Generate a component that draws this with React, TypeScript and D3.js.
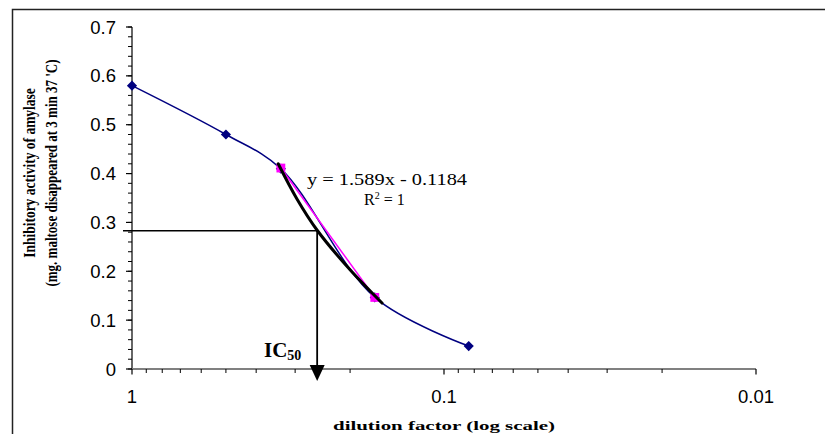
import React from 'react';
import * as d3 from 'd3';

// ---- data ----
const dilution = [1, 0.5, 1 / 3, 1 / 6, 1 / 12];
const activity = [0.58, 0.48, 0.41, 0.1465, 0.047];
const trendDilution = [1 / 3, 1 / 6];
const trendActivity = [0.4113, 0.1465];
const handDilution = [0.34, 0.296, 0.255, 0.2, 0.158];
const handActivity = [0.42, 0.348, 0.284, 0.203, 0.135];
const ic50Dilution = 0.255;
const ic50Activity = 0.283;
const yTicks = [0, 0.1, 0.2, 0.3, 0.4, 0.5, 0.6, 0.7];
const yTickLabels = ['0', '0.1', '0.2', '0.3', '0.4', '0.5', '0.6', '0.7'];
const xMajorTicks = [1, 0.1, 0.01];
const xTickLabels = ['1', '0.1', '0.01'];
const equationText = 'y = 1.589x - 0.1184';
const yTitle1 = 'Inhibitory activity of amylase';
const yTitle2 = "(mg. maltose disappeared at 3 min  37 'C)";
const xTitle = 'dilution factor (log scale)';

const W = 825;
const H = 434;

export default function App() {
  const x = d3.scaleLog().domain([1, 0.01]).range([132, 756]);
  const y = d3.scaleLinear().domain([0, 0.7]).range([369, 27]);

  const yMinor = d3.range(0, 0.7001, 0.02);
  const xMinor: number[] = [];
  [1, 0.1].forEach((dec) => {
    for (let k = 9; k >= 2; k--) xMinor.push((dec * k) / 10);
  });

  const pts: [number, number][] = dilution.map((d, i) => [d, activity[i]]);
  const blueLine = d3
    .line<[number, number]>()
    .x((d) => x(d[0]))
    .y((d) => y(d[1]))
    .curve(d3.curveCatmullRom.alpha(0.5))(pts);

  const handPts: [number, number][] = handDilution.map((d, i) => [d, handActivity[i]]);
  const handLine = d3
    .line<[number, number]>()
    .x((d) => x(d[0]))
    .y((d) => y(d[1]))
    .curve(d3.curveCatmullRom.alpha(0.5))(handPts);

  const trendPts: [number, number][] = trendDilution.map((d, i) => [d, trendActivity[i]]);
  const trendLine = d3
    .line<[number, number]>()
    .x((d) => x(d[0]))
    .y((d) => y(d[1]))(trendPts);

  const diamond = d3.symbol(d3.symbolSquare, 52)();
  const square = d3.symbol(d3.symbolSquare, 78)();

  const icx = x(ic50Dilution);
  const icy = y(ic50Activity);
  const y0 = y(0);
  const arrow = `M${icx - 7.5},${y0 - 4}L${icx + 7.5},${y0 - 4}L${icx},${y0 + 12}Z`;

  return (
    <svg width={W} height={H} style={{ position: 'absolute', left: 0, top: 0, background: '#fff' }}>
      <rect x={0} y={0} width={W} height={H} fill="#fff" />
      {/* outer frame */}
      <path d={`M12.5,${H}L12.5,9.5L${W},9.5`} fill="none" stroke="#222" strokeWidth={1.5} />

      {/* y axis */}
      <line x1={132} x2={132} y1={y(0.7)} y2={y(0)} stroke="#000" strokeWidth={1.2} />
      {yMinor.map((v, i) => (
        <line key={'ym' + i} x1={128} x2={132} y1={y(v)} y2={y(v)} stroke="#000" strokeWidth={1} />
      ))}
      {yTicks.map((v, i) => (
        <line key={'yt' + i} x1={126} x2={132} y1={y(v)} y2={y(v)} stroke="#000" strokeWidth={1.2} />
      ))}
      {yTicks.map((v, i) => (
        <text
          key={'yl' + i}
          x={116}
          y={y(v) + 6.5}
          textAnchor="end"
          fontFamily="Liberation Sans, Arial, sans-serif"
          fontSize={18.5}
          fill="#000"
        >
          {yTickLabels[i]}
        </text>
      ))}

      {/* x axis */}
      <line x1={x(1)} x2={x(0.01)} y1={y0} y2={y0} stroke="#808080" strokeWidth={2.2} />
      {xMinor.map((v, i) => (
        <line key={'xm' + i} x1={x(v)} x2={x(v)} y1={y0} y2={y0 + 4} stroke="#000" strokeWidth={1} />
      ))}
      {xMajorTicks.map((v, i) => (
        <line key={'xt' + i} x1={x(v)} x2={x(v)} y1={y0} y2={y0 + 5.5} stroke="#000" strokeWidth={1.2} />
      ))}
      {xMajorTicks.map((v, i) => (
        <text
          key={'xl' + i}
          x={x(v)}
          y={403}
          textAnchor="middle"
          fontFamily="Liberation Sans, Arial, sans-serif"
          fontSize={18.5}
          fill="#000"
        >
          {xTickLabels[i]}
        </text>
      ))}

      {/* titles */}
      <text
        x={444}
        y={430}
        textAnchor="middle"
        fontFamily="Liberation Serif, Times New Roman, serif"
        fontWeight="bold"
        fontSize={13}
        textLength={222}
        lengthAdjust="spacingAndGlyphs"
      >
        {xTitle}
      </text>
      <text
        transform={`translate(35,173) scale(1.3,1) rotate(-90)`}
        textAnchor="middle"
        fontFamily="Liberation Serif, Times New Roman, serif"
        fontWeight="bold"
        fontSize={13.5}
      >
        {yTitle1}
      </text>
      <text
        transform={`translate(57,173) scale(1.3,1) rotate(-90)`}
        textAnchor="middle"
        fontFamily="Liberation Serif, Times New Roman, serif"
        fontWeight="bold"
        fontSize={13}
      >
        {yTitle2}
      </text>

      {/* guide lines */}
      <line x1={123} x2={icx} y1={icy} y2={icy} stroke="#000" strokeWidth={1.5} />
      <line x1={icx} x2={icx} y1={icy} y2={y0} stroke="#000" strokeWidth={1.8} />
      <path d={arrow} fill="#000" />

      {/* blue series */}
      <path d={blueLine || ''} fill="none" stroke="#000080" strokeWidth={1.5} />
      {pts.map((p, i) => (
        <path
          key={'d' + i}
          d={diamond || ''}
          transform={`translate(${x(p[0])},${y(p[1])}) rotate(45)`}
          fill="#000080"
        />
      ))}

      {/* trend series */}
      <path d={trendLine || ''} fill="none" stroke="#FF00FF" strokeWidth={1.5} />
      {trendPts.map((p, i) => (
        <path key={'s' + i} d={square || ''} transform={`translate(${x(p[0])},${y(p[1])})`} fill="#FF00FF" />
      ))}

      {/* hand-drawn black line */}
      <path d={handLine || ''} fill="none" stroke="#000" strokeWidth={3} strokeLinecap="round" />

      {/* equation */}
      <text
        x={307}
        y={185}
        fontFamily="Liberation Serif, Times New Roman, serif"
        fontSize={16}
        textLength={160}
        lengthAdjust="spacingAndGlyphs"
      >
        {equationText}
      </text>
      <text x={364} y={205} fontFamily="Liberation Serif, Times New Roman, serif" fontSize={16}>
        R<tspan fontSize={10} dy={-6}>2</tspan>
        <tspan dy={6}> = 1</tspan>
      </text>

      {/* IC50 label */}
      <text x={264} y={357} fontFamily="Liberation Serif, Times New Roman, serif" fontWeight="bold" fontSize={21}>
        IC<tspan fontSize={14} dy={3}>50</tspan>
      </text>
    </svg>
  );
}
